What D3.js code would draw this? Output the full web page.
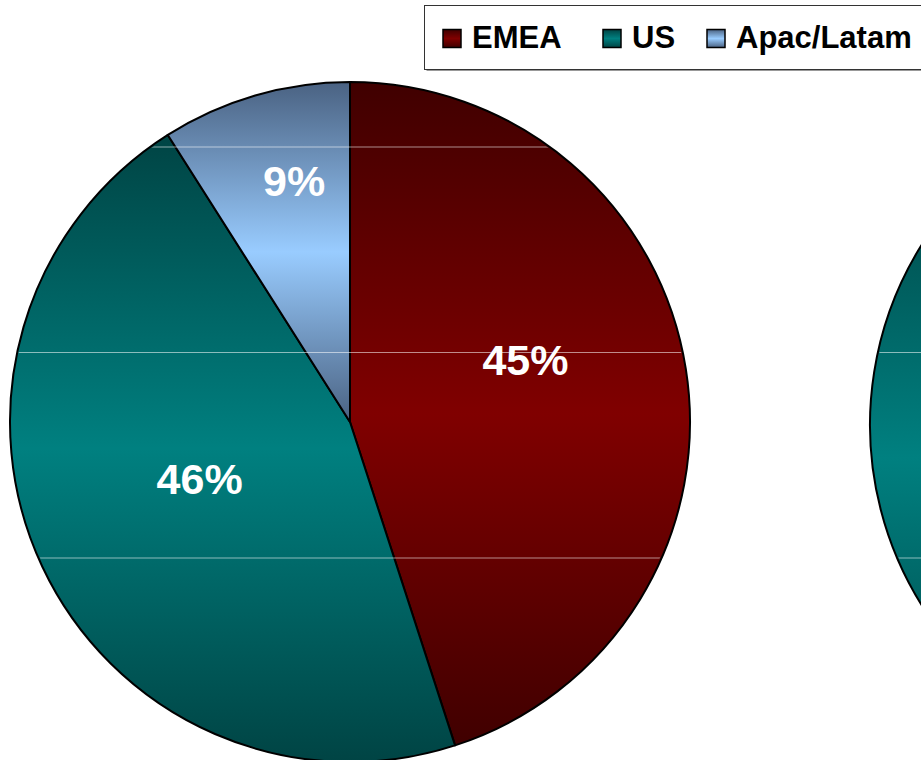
<!DOCTYPE html>
<html>
<head>
<meta charset="utf-8">
<script src="https://cdn.jsdelivr.net/npm/d3@7"></script>
<style>
  html, body { margin: 0; padding: 0; background: #fff; }
  svg { display: block; }
</style>
</head>
<body>
<div id="chart"></div>
<script>
// Revenue split by region
const regions = ["EMEA", "US", "Apac/Latam"];
const regionShare = [45, 46, 9];          // left pie, percent
const secondPieShare = [40, 50, 10];      // right pie (mostly off the page)
const labelFormat = v => v + "%";

// dark edge / bright centre colours of each region's vertical gradient
const edgeColors = ["#400000", "#004444", "#4a6282"];
const midColors  = ["#800000", "#008080", "#99ccff"];

const width = 921, height = 760;
const svg = d3.select("#chart").append("svg")
  .attr("width", width).attr("height", height);
const defs = svg.append("defs");

regions.forEach((r, i) => {
  const g = defs.append("linearGradient")
    .attr("id", "grad" + i)
    .attr("x1", 0).attr("y1", 0).attr("x2", 0).attr("y2", 1);
  g.append("stop").attr("offset", "0%").attr("stop-color", edgeColors[i]);
  g.append("stop").attr("offset", "50%").attr("stop-color", midColors[i]);
  g.append("stop").attr("offset", "100%").attr("stop-color", edgeColors[i]);
});

const R = 340;
const pie = d3.pie().sort(null).startAngle(0).endAngle(2 * Math.PI);
const arc = d3.arc().innerRadius(0).outerRadius(R);

function drawPie(values, cx, cy, withLabels, id) {
  const g = svg.append("g").attr("transform", `translate(${cx},${cy})`);
  const arcs = pie(values);

  g.selectAll("path.slice").data(arcs).join("path")
    .attr("class", "slice")
    .attr("d", arc)
    .attr("fill", (d, i) => `url(#grad${i})`)
    .attr("stroke", "#000")
    .attr("stroke-width", 2)
    .attr("stroke-linejoin", "round");

  // faint horizontal rules showing through the pie
  const clip = defs.append("clipPath").attr("id", "clip" + id);
  clip.append("circle").attr("cx", 0).attr("cy", 0).attr("r", R - 1.5);
  const ruleYs = d3.range(147, height, 205.5).map(y => y - cy);
  g.append("g").attr("clip-path", `url(#clip${id})`)
    .selectAll("line").data(ruleYs).join("line")
    .attr("x1", -R).attr("x2", R)
    .attr("y1", d => d).attr("y2", d => d)
    .attr("stroke", "#fff").attr("stroke-opacity", 0.55).attr("stroke-width", 1);

  if (withLabels) {
    g.selectAll("text.lbl").data(arcs).join("text")
      .attr("class", "lbl")
      .attr("transform", d => {
        const frac = (d.endAngle - d.startAngle) / (2 * Math.PI);
        const lr = R * (0.5 + 0.45 * (0.5 - frac));
        const a = (d.startAngle + d.endAngle) / 2;
        const s = Math.sin(a);
        // labels sit a little up and toward the middle of the pie
        const x = lr * s + (s < 0 ? 9 : 0);
        const y = -lr * Math.cos(a) - 18 - (s > 0 ? 17 : 0);
        return `translate(${x},${y})`;
      })
      .attr("text-anchor", "middle")
      .attr("dy", "0.36em")
      .attr("fill", "#fff")
      .attr("font-family", "'Liberation Sans', Arial, sans-serif")
      .attr("font-weight", "bold")
      .attr("font-size", 43)
      .text(d => labelFormat(d.data));
  }
}

drawPie(regionShare, 350, 422, true, "a");
drawPie(secondPieShare, 1210, 425, false, "b");

// legend
const lg = svg.append("g");
lg.append("rect").attr("x", 426.5).attr("y", 7).attr("width", 520).attr("height", 64)
  .attr("fill", "#999");
lg.append("rect").attr("x", 424.5).attr("y", 5.5).attr("width", 520).attr("height", 64)
  .attr("fill", "#fff").attr("stroke", "#333").attr("stroke-width", 1);

const legendX = [443, 603, 707];
const item = lg.selectAll("g.item").data(regions).join("g")
  .attr("class", "item")
  .attr("transform", (d, i) => `translate(${legendX[i]},29.5)`);
item.append("rect").attr("width", 18).attr("height", 18)
  .attr("fill", (d, i) => `url(#grad${i})`)
  .attr("stroke", "#000").attr("stroke-width", 1.5);
item.append("text")
  .attr("x", 29).attr("y", 18.5)
  .attr("font-family", "'Liberation Sans', Arial, sans-serif")
  .attr("font-weight", "bold")
  .attr("font-size", 31)
  .attr("fill", "#000")
  .text(d => d);
</script>
</body>
</html>
